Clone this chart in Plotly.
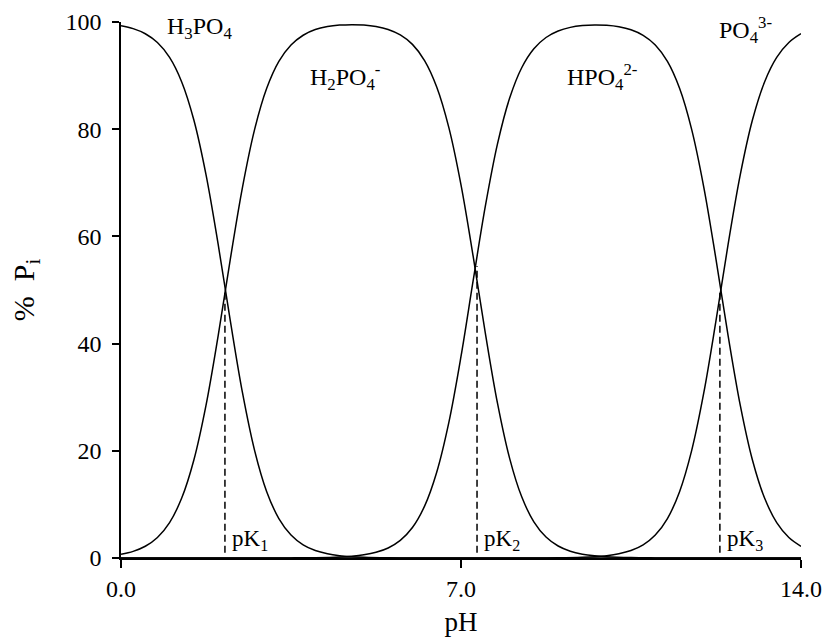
import plotly.graph_objects as go

# ---- data (pH vs % of total phosphate) ----
ph_h3po4 = [0.0, 0.25, 0.5, 0.75, 1.0, 1.25, 1.5, 1.75, 2.0, 2.25, 2.5, 2.75, 3.0, 3.25, 3.5, 3.75,
            4.0, 4.25, 4.5, 4.75, 5.0, 5.5, 6.0, 6.5, 7.0, 8.0, 10.0, 12.0, 14.0]
pct_h3po4 = [99.30, 98.76, 97.81, 96.17, 93.39, 88.82, 81.71, 71.52, 58.55, 44.27, 30.88, 20.08, 12.38, 7.36, 4.28, 2.45,
             1.39, 0.79, 0.44, 0.25, 0.14, 0.04, 0.01, 0.0, 0.0, 0.0, 0.0, 0.0, 0.0]

ph_h2po4 = [0.0, 0.25, 0.5, 0.75, 1.0, 1.25, 1.5, 1.75, 2.0, 2.25, 2.5, 2.75, 3.0, 3.25, 3.5, 3.75,
            4.0, 4.25, 4.5, 4.75, 5.0, 5.25, 5.5, 5.75, 6.0, 6.25, 6.5, 6.75, 7.0, 7.25, 7.5, 7.75,
            8.0, 8.25, 8.5, 8.75, 9.0, 9.25, 9.5, 9.75, 10.0, 10.5, 11.0, 11.5, 12.0, 13.0, 14.0]
pct_h2po4 = [0.70, 1.24, 2.19, 3.83, 6.61, 11.18, 18.29, 28.48, 41.45, 55.73, 69.12, 79.92, 87.62, 92.64, 95.70, 97.53,
             98.59, 99.14, 99.42, 99.51, 99.43, 99.15, 98.60, 97.58, 95.82, 92.80, 87.87, 80.29, 69.61, 56.30, 42.01, 28.94,
             18.64, 11.41, 6.75, 3.91, 2.24, 1.27, 0.72, 0.41, 0.23, 0.07, 0.02, 0.0, 0.0, 0.0, 0.0]

ph_hpo4 = [0.0, 2.0, 3.0, 3.5, 4.0, 4.5, 4.75, 5.0, 5.25, 5.5, 5.75, 6.0, 6.25, 6.5, 6.75, 7.0, 7.25, 7.5, 7.75,
           8.0, 8.25, 8.5, 8.75, 9.0, 9.25, 9.5, 9.75, 10.0, 10.25, 10.5, 10.75, 11.0, 11.25, 11.5, 11.75,
           12.0, 12.25, 12.5, 12.75, 13.0, 13.25, 13.5, 13.75, 14.0]
pct_hpo4 = [0.0, 0.0, 0.01, 0.02, 0.06, 0.19, 0.34, 0.60, 1.06, 1.87, 3.28, 5.68, 9.68, 16.01, 25.31, 37.60, 51.73, 65.58, 77.21,
            85.76, 91.47, 95.01, 97.11, 98.32, 99.00, 99.34, 99.46, 99.39, 99.12, 98.56, 97.52, 95.72, 92.64, 87.62, 79.92,
            69.12, 55.73, 41.45, 28.48, 18.29, 11.18, 6.61, 3.83, 2.19]

ph_po4 = [0.0, 2.0, 4.0, 6.0, 7.0, 8.0, 8.5, 9.0, 9.5, 9.75, 10.0, 10.25, 10.5, 10.75, 11.0, 11.25, 11.5, 11.75,
          12.0, 12.25, 12.5, 12.75, 13.0, 13.25, 13.5, 13.75, 14.0]
pct_po4 = [0.0, 0.0, 0.0, 0.0, 0.0, 0.0, 0.01, 0.04, 0.14, 0.25, 0.44, 0.79, 1.39, 2.45, 4.28, 7.36, 12.38, 20.08,
           30.88, 44.27, 58.55, 71.52, 81.71, 88.82, 93.39, 96.17, 97.81]

pk_ph = [2.14, 7.33, 12.33]
pk_top = [50.0, 54.5, 50.0]
pk_bottom = [1.0, 1.0, 1.0]
pk_labels = ["pK<sub>1</sub>", "pK<sub>2</sub>", "pK<sub>3</sub>"]

species_labels = ["H<sub>3</sub>PO<sub>4</sub>", "H<sub>2</sub>PO<sub>4</sub><sup>-</sup>",
                  "HPO<sub>4</sub><sup>2-</sup>", "PO<sub>4</sub><sup>3-</sup>"]
species_label_x = [0.9, 3.85, 9.15, 12.28]
species_label_y = [98.9, 89.8, 89.8, 98.6]

x_ticks = [0, 7, 14]
x_ticktext = ["0.0", "7.0", "14.0"]
y_ticks = [0, 20, 40, 60, 80, 100]

FONT = "Liberation Serif, Times New Roman, serif"

fig = go.Figure()
for xs, ys in [(ph_h3po4, pct_h3po4), (ph_h2po4, pct_h2po4), (ph_hpo4, pct_hpo4), (ph_po4, pct_po4)]:
    fig.add_trace(go.Scatter(x=xs, y=ys, mode="lines",
                             line=dict(color="black", width=1.5, shape="spline", smoothing=1.0),
                             showlegend=False, hoverinfo="skip"))

for px, top, bot in zip(pk_ph, pk_top, pk_bottom):
    fig.add_trace(go.Scatter(x=[px, px], y=[bot, top], mode="lines",
                             line=dict(color="black", width=1.5, dash="7px,4px"),
                             showlegend=False, hoverinfo="skip"))

for px, lab in zip(pk_ph, pk_labels):
    fig.add_annotation(x=px + 0.11, y=3.3, text=lab, showarrow=False, xanchor="left", yanchor="middle",
                       font=dict(family=FONT, size=23, color="black"))

for lx, ly, lab in zip(species_label_x, species_label_y, species_labels):
    fig.add_annotation(x=lx, y=ly, text=lab, showarrow=False, xanchor="left", yanchor="middle",
                       font=dict(family=FONT, size=24, color="black"))

fig.update_layout(
    width=824, height=637,
    margin=dict(l=121, r=23, t=22, b=79),
    paper_bgcolor="white", plot_bgcolor="white",
    font=dict(family=FONT, size=24, color="black"),
    xaxis=dict(range=[0, 14], tickvals=x_ticks, ticktext=x_ticktext, showline=True, linecolor="black",
               linewidth=2, ticks="outside", ticklen=8, tickwidth=1.5, tickcolor="black", showgrid=False,
               zeroline=False, automargin=False,
               title=dict(text="pH", font=dict(size=27), standoff=15),
               tickfont=dict(size=24)),
    yaxis=dict(range=[0, 100], tickvals=y_ticks, showline=True, linecolor="black", linewidth=1.6,
               ticks="outside", ticklen=7, tickwidth=1.5, tickcolor="black", showgrid=False, zeroline=False,
               automargin=False, ticklabelstandoff=6,
               title=dict(text="%  P<sub>i</sub>", font=dict(size=30), standoff=22), tickfont=dict(size=24)),
)

fig.write_html("out.html", config={"displayModeBar": False},
               post_script="document.body.style.margin='0px';document.body.style.overflow='hidden';")
